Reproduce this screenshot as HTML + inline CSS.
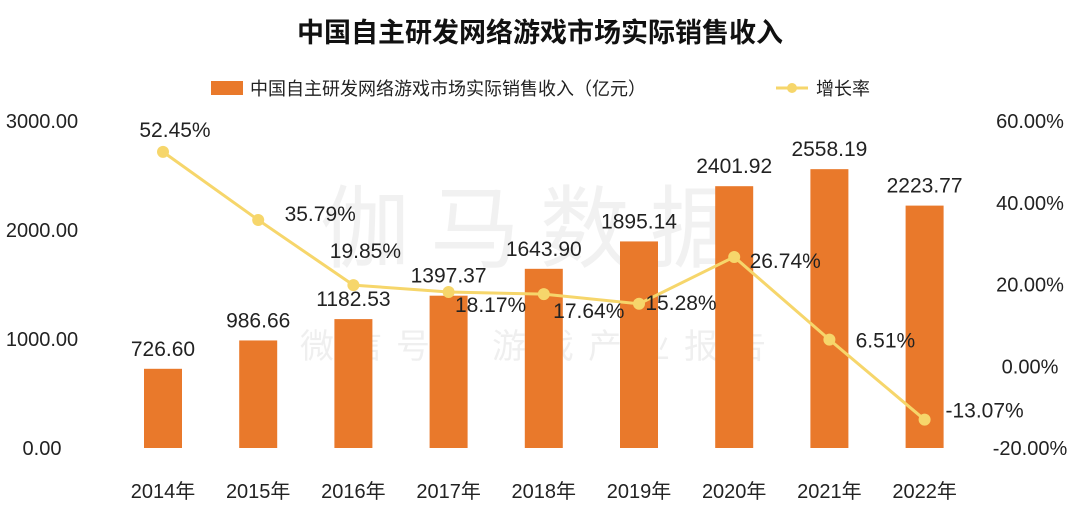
<!DOCTYPE html>
<html><head><meta charset="utf-8"><style>
body{margin:0;background:#fff;}
svg text{font-family:"Liberation Sans","Noto Sans CJK SC",sans-serif;}
</style></head><body>
<svg id="chart" width="1080" height="511" viewBox="0 0 1080 511">
<text x="540" y="42" text-anchor="middle" font-size="27" font-weight="bold" fill="#111">中国自主研发网络游戏市场实际销售收入</text>
<g>
<rect x="211" y="81" width="32" height="14" fill="#E9792B"/>
<text x="250" y="95" font-size="18" fill="#222">中国自主研发网络游戏市场实际销售收入（亿元）</text>
<line x1="776" y1="88" x2="808" y2="88" stroke="#F6D66B" stroke-width="3"/>
<circle cx="792" cy="88" r="5" fill="#F6D66B"/>
<text x="816" y="95" font-size="18" fill="#222">增长率</text>
</g>
<text x="540" y="260" text-anchor="middle" font-size="90" fill="#000" opacity="0.05" letter-spacing="20">伽马数据</text>
<text x="540" y="358" text-anchor="middle" font-size="34" fill="#000" opacity="0.06" letter-spacing="14">微信号：游戏产业报告</text>
<g id="axes"></g><g id="bars"></g><g id="line"></g><g id="labels"></g>
</svg>
<script>
const categories=["2014年","2015年","2016年","2017年","2018年","2019年","2020年","2021年","2022年"];
const revenue=[726.60,986.66,1182.53,1397.37,1643.90,1895.14,2401.92,2558.19,2223.77];
const growth=[52.45,35.79,19.85,18.17,17.64,15.28,26.74,6.51,-13.07];
const leftTicks=[0,1000,2000,3000];
const rightTicks=[-20,0,20,40,60];
const NS="http://www.w3.org/2000/svg";
function yL(v){return 448-v*(448-121)/3000;}
function yR(v){return 448-(v+20)*(448-121)/80;}
function xC(i){return 163+i*95.2;}
function mk(tag,attrs,parent){const e=document.createElementNS(NS,tag);for(const k in attrs)e.setAttribute(k,attrs[k]);document.getElementById(parent).appendChild(e);return e;}
leftTicks.forEach(t=>{const e=mk("text",{x:42,y:yL(t)+7,"text-anchor":"middle","font-size":"20",fill:"#222"},"axes");e.textContent=t.toFixed(2);

});
rightTicks.forEach(t=>{const e=mk("text",{x:1030,y:yR(t)+7,"text-anchor":"middle","font-size":"20",fill:"#222"},"axes");e.textContent=t.toFixed(2)+"%";

});
categories.forEach((c,i)=>{const e=mk("text",{x:xC(i),y:498,"text-anchor":"middle","font-size":"20",fill:"#222"},"axes");e.textContent=c;

});
revenue.forEach((v,i)=>{const r=mk("rect",{x:xC(i)-19,y:yL(v),width:38,height:448-yL(v),fill:"#E9792B"},"bars");


const t=mk("text",{x:xC(i),y:yL(v)-13,"text-anchor":"middle","font-size":"21",fill:"#222"},"labels");t.textContent=v.toFixed(2);

});
const pts=growth.map((g,i)=>xC(i)+","+yR(g)).join(" ");
const pl=mk("polyline",{points:pts,fill:"none",stroke:"#F6D66B","stroke-width":"3"},"line");


const offs=[[12,-15],[62,1],[12,-27],[42,20],[45,24],[42,6],[51,11],[56,8],[60,-2]];
growth.forEach((g,i)=>{const c=mk("circle",{cx:xC(i),cy:yR(g),r:6,fill:"#F6D66B"},"line");


const t=mk("text",{x:xC(i)+offs[i][0],y:yR(g)+offs[i][1],"text-anchor":"middle","font-size":"21",fill:"#222"},"labels");t.textContent=g.toFixed(2)+"%";

});
</script>
</body></html>
